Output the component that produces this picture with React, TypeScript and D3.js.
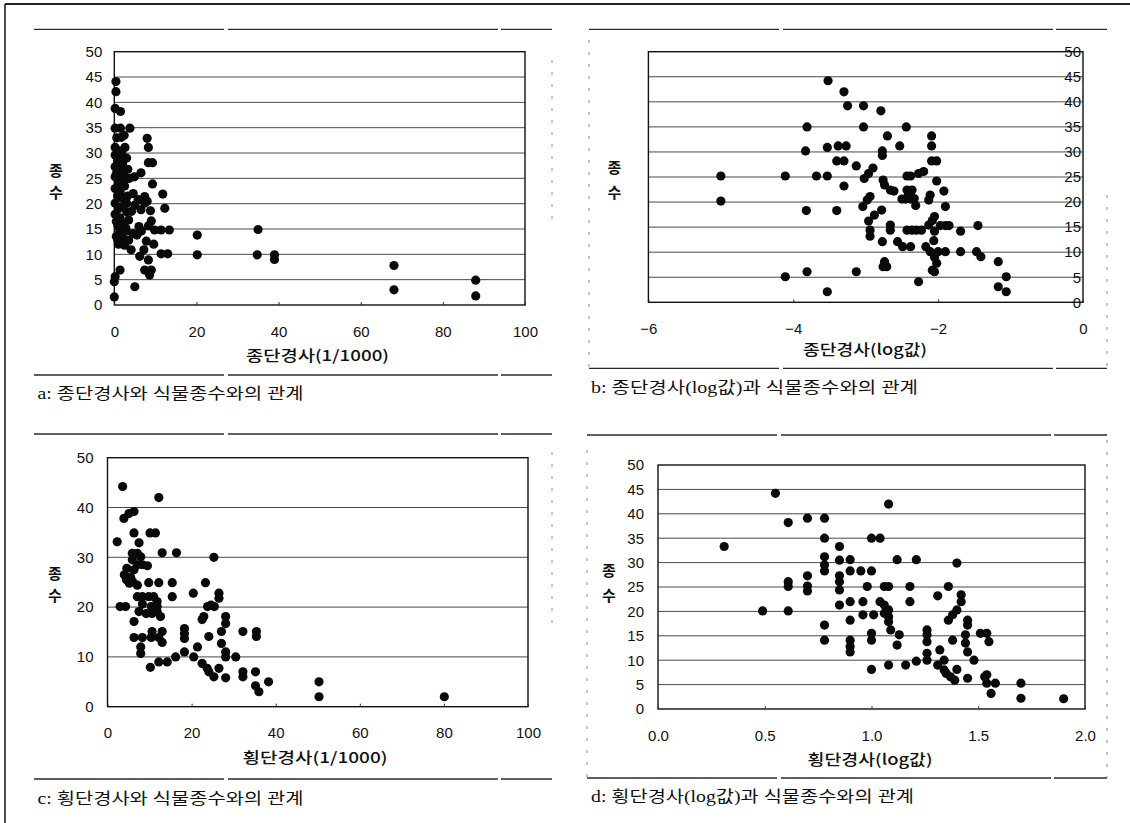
import React, { useEffect, useRef } from "react";
import * as d3 from "d3";

// 종수 (species count) vs. slope, four views of the same survey plots
const longSlopePts = [
  [0.4, 44.1], [0.4, 42.1], [0.2, 38.8], [1.5, 38.2], [0.2, 34.9], [1.5, 34.9], [3.8, 34.9], [1.7, 33.1],
  [8.0, 32.9], [8.3, 31.1], [0.2, 31.1], [2.6, 31.1], [0.2, 29.6], [1.2, 29.3], [8.3, 28.1], [9.3, 28.1],
  [0.2, 27.3], [1.4, 27.0], [6.5, 26.1], [4.9, 25.3], [3.7, 25.0], [0.2, 25.3], [1.4, 24.7], [9.3, 23.9],
  [0.2, 23.0], [1.4, 22.4], [4.6, 22.0], [7.4, 21.4], [11.8, 21.9], [0.2, 20.1], [3.0, 20.1], [5.0, 19.7],
  [7.4, 20.1], [12.3, 19.1], [0.2, 17.9], [1.4, 17.2], [3.0, 18.4], [9.0, 16.6], [8.3, 15.6], [0.9, 15.6],
  [2.9, 14.6], [4.6, 14.1], [6.6, 14.6], [9.8, 14.8], [11.4, 14.8], [13.4, 14.8], [20.2, 13.8], [0.9, 12.8],
  [2.5, 11.8], [4.1, 10.9], [7.2, 10.9], [9.6, 12.0], [11.4, 10.1], [13.0, 10.1], [20.2, 9.9], [8.3, 8.9],
  [9.0, 6.9], [8.6, 5.9], [7.4, 6.9], [1.4, 6.9], [0.2, 5.6], [0.0, 4.6], [5.0, 3.6], [0.0, 1.6],
  [35.0, 14.9], [34.8, 9.9], [39.0, 9.9], [39.0, 9.0], [68.1, 7.8], [68.1, 3.0], [88.0, 4.9], [88.0, 1.8],
  [1.0, 30.5], [0.8, 28.5], [2.0, 28.0], [0.6, 26.2], [2.2, 26.0], [1.0, 23.8], [2.5, 23.5], [0.8, 21.5],
  [2.0, 21.0], [3.2, 21.5], [1.0, 19.0], [2.2, 19.5], [0.5, 16.5], [2.0, 16.0], [1.2, 14.2], [2.0, 13.2],
  [3.5, 12.8], [5.5, 13.8], [6.0, 15.5], [5.8, 20.8], [6.5, 18.8], [2.4, 33.5], [3.0, 29.0], [1.0, 12.0],
  [6.2, 9.6], [7.8, 12.6], [8.8, 18.6], [8.0, 20.5], [0.5, 13.5], [1.8, 12.2], [2.8, 15.2], [3.5, 16.8],
  [4.2, 18.5], [1.6, 24.0], [2.8, 24.8], [3.3, 26.8], [1.8, 30.0], [0.6, 33.0],
];

const longLogPts = [
  [-5.0, 25.2], [-5.0, 20.2], [-4.11, 25.2], [-4.11, 5.1], [-3.81, 35.0], [-3.83, 30.2], [-3.82, 18.3],
  [-3.81, 6.1], [-3.52, 44.2], [-3.53, 30.9], [-3.53, 25.2], [-3.68, 25.2], [-3.53, 2.1], [-3.30, 42.0],
  [-3.25, 39.2], [-3.40, 18.3], [-3.40, 28.2], [-3.30, 28.2], [-3.38, 31.2], [-3.27, 31.2], [-3.30, 23.2],
  [-3.13, 27.2], [-3.13, 6.1], [-3.03, 39.2], [-3.03, 35.0], [-3.02, 24.7], [-2.96, 25.7], [-2.90, 26.8],
  [-2.79, 38.2], [-2.70, 33.2], [-2.77, 30.2], [-2.77, 29.3], [-2.53, 31.2], [-2.44, 35.0], [-2.09, 33.2],
  [-2.09, 31.2], [-2.09, 28.2], [-2.02, 28.2], [-2.02, 24.2], [-1.92, 22.2], [-1.90, 19.1], [-1.69, 14.2],
  [-1.45, 15.3], [-1.69, 10.1], [-1.47, 10.1], [-1.41, 9.1], [-1.17, 8.1], [-1.06, 5.1], [-1.17, 3.1],
  [-1.06, 2.1], [-2.27, 4.1], [-2.76, 7.1], [-2.71, 7.1], [-2.74, 8.1], [-2.77, 12.1], [-2.94, 13.2],
  [-2.94, 14.4], [-2.96, 16.2], [-2.88, 17.4], [-2.78, 18.4], [-3.04, 19.1], [-2.98, 20.4], [-2.94, 21.1],
  [-2.76, 24.4], [-2.74, 23.4], [-2.66, 22.4], [-2.61, 22.2], [-2.66, 15.4], [-2.66, 14.4], [-2.56, 12.1],
  [-2.49, 11.1], [-2.38, 11.1], [-2.50, 20.6], [-2.45, 20.6], [-2.38, 20.6], [-2.43, 25.2], [-2.38, 25.2],
  [-2.27, 25.7], [-2.20, 26.1], [-2.43, 22.4], [-2.36, 22.4], [-2.41, 21.4], [-2.33, 20.7], [-2.31, 19.3],
  [-2.43, 14.4], [-2.36, 14.4], [-2.30, 14.4], [-2.23, 14.4], [-2.13, 15.4], [-2.08, 16.3], [-2.05, 17.1],
  [-2.05, 14.2], [-1.97, 15.3], [-1.90, 15.3], [-1.85, 15.3], [-2.11, 21.4], [-2.13, 20.4], [-2.17, 11.1],
  [-2.11, 10.1], [-2.05, 9.0], [-2.02, 7.8], [-2.08, 6.4], [-2.05, 6.1], [-2.00, 10.1], [-1.90, 10.1],
  [-2.06, 12.3],
];

const crossSlopePts = [
  [3.6, 44.2], [12.2, 42.0], [3.9, 37.8], [5.1, 38.8], [6.3, 39.2], [2.3, 33.1], [6.3, 34.9], [10.1, 34.9],
  [11.4, 34.9], [7.5, 32.9], [13.0, 30.9], [16.4, 30.9], [25.3, 30.0], [5.9, 30.8], [7.1, 30.8], [7.9, 30.1],
  [5.9, 29.5], [7.1, 28.5], [8.3, 28.5], [9.5, 28.3], [4.6, 27.8], [6.3, 27.5], [4.0, 26.5], [5.5, 26.0],
  [4.5, 25.5], [6.0, 25.1], [7.1, 24.4], [5.2, 24.8], [9.8, 24.9], [12.2, 24.9], [15.4, 24.9], [15.4, 22.1],
  [20.4, 22.8], [23.3, 24.9], [26.5, 22.8], [26.5, 21.8], [23.8, 20.1], [24.6, 20.4], [25.4, 20.1],
  [22.9, 18.1], [22.5, 17.5], [28.1, 18.1], [28.1, 16.7], [3.0, 20.1], [4.3, 20.1], [7.1, 22.1], [8.3, 22.1],
  [9.8, 22.1], [11.0, 22.1], [11.8, 21.1], [8.3, 20.6], [10.4, 20.1], [11.8, 20.1], [7.5, 19.1], [9.2, 18.7],
  [10.6, 18.7], [11.8, 19.1], [12.6, 18.1], [6.3, 17.1], [10.6, 15.1], [13.0, 15.1], [6.3, 13.9], [8.3, 13.9],
  [10.4, 13.9], [12.2, 13.9], [7.9, 12.0], [7.9, 10.7], [13.0, 12.9], [18.3, 15.7], [18.3, 14.7], [18.3, 13.7],
  [18.3, 11.0], [16.2, 10.0], [14.2, 9.0], [12.2, 9.0], [10.2, 7.9], [21.4, 12.0], [20.5, 10.0], [22.5, 8.7],
  [23.7, 7.7], [24.1, 7.0], [25.3, 6.0], [26.5, 7.7], [24.1, 14.1], [27.1, 15.1], [27.1, 12.7], [28.1, 11.0],
  [28.1, 10.0], [30.5, 10.0], [28.1, 5.8], [32.2, 15.1], [32.2, 7.0], [32.2, 6.0], [35.4, 15.1], [35.4, 14.1],
  [35.2, 7.0], [35.2, 4.2], [36.0, 3.0], [38.3, 5.0], [50.3, 5.0], [50.3, 2.0], [80.1, 2.0],
];

const crossLogPts = [
  [0.31, 33.3], [0.49, 20.1], [0.61, 20.1], [0.55, 44.2], [0.61, 38.2], [0.61, 26.1], [0.61, 25.1],
  [0.70, 39.1], [0.78, 39.1], [0.70, 27.3], [0.70, 25.2], [0.70, 24.2], [0.78, 35.0], [0.78, 31.2],
  [0.78, 29.5], [0.78, 28.3], [0.78, 17.2], [0.78, 14.1], [0.85, 33.3], [0.85, 30.5], [0.85, 27.3],
  [0.85, 26.1], [0.85, 24.4], [0.85, 21.3], [0.90, 30.6], [0.90, 28.3], [0.90, 22.0], [0.90, 18.2],
  [0.90, 14.1], [0.90, 12.8], [0.90, 11.7], [0.95, 28.3], [1.00, 28.3], [0.98, 25.1], [0.96, 22.0],
  [0.96, 19.3], [1.01, 19.3], [1.00, 35.0], [1.04, 35.0], [1.08, 42.0], [1.00, 15.5], [1.00, 14.1],
  [1.00, 8.1], [1.06, 25.1], [1.08, 25.1], [1.04, 22.0], [1.06, 21.3], [1.08, 20.3], [1.06, 19.6],
  [1.08, 18.9], [1.08, 17.9], [1.09, 16.2], [1.13, 15.2], [1.12, 13.1], [1.12, 30.6], [1.21, 30.6],
  [1.08, 9.0], [1.16, 9.0], [1.21, 9.8], [1.18, 25.1], [1.18, 22.0], [1.26, 16.2], [1.26, 15.2],
  [1.26, 13.8], [1.26, 11.4], [1.26, 10.0], [1.31, 23.2], [1.32, 12.1], [1.31, 9.0], [1.34, 8.0],
  [1.35, 7.3], [1.37, 6.6], [1.39, 5.9], [1.34, 10.0], [1.40, 8.1], [1.36, 25.1], [1.40, 29.9],
  [1.38, 14.1], [1.36, 18.2], [1.38, 19.3], [1.40, 20.3], [1.42, 23.4], [1.42, 22.0], [1.45, 18.2],
  [1.45, 17.2], [1.44, 15.2], [1.44, 13.5], [1.45, 11.7], [1.48, 10.0], [1.45, 6.3], [1.51, 15.5],
  [1.54, 15.5], [1.55, 13.8], [1.53, 6.6], [1.54, 7.0], [1.54, 5.3], [1.58, 5.3], [1.56, 3.2],
  [1.70, 5.3], [1.70, 2.2], [1.90, 2.1],
];

const yTicks5 = [0, 5, 10, 15, 20, 25, 30, 35, 40, 45, 50];
const yTicks10 = [0, 10, 20, 30, 40, 50];
const pctTicks = [0, 20, 40, 60, 80, 100];
const logLongTicks = [-6, -4, -2, 0];
const logCrossTicks = [0, 0.5, 1.0, 1.5, 2.0];

const yTitle = ["종", "수"];
const xTitles = ["종단경사(1/1000)", "종단경사(log값)", "횡단경사(1/1000)", "횡단경사(log값)"];
const captions = [
  "a:  종단경사와  식물종수와의  관계",
  "b:  종단경사(log값)과  식물종수와의  관계",
  "c:  횡단경사와  식물종수와의  관계",
  "d:  횡단경사(log값)과  식물종수와의  관계",
];

const NUM_FONT = "'Liberation Sans', Arial, sans-serif";
const KR_FONT = "'Noto Sans CJK KR', sans-serif";
const CAP_FONT = "'Liberation Serif', 'Noto Sans CJK KR', serif";

const panels = [
  {
    pts: longSlopePts, xDomain: [0, 100], xTicks: pctTicks, fmt: (d) => String(d), yTicks: yTicks5,
    left: 114.3, right: 525, top: 51.7, bottom: 305, yLabelRight: false, yPad: 12,
    sepX: [34, 552], sepTop: 29.3, sepBottom: 375, vLeft: null, vRight: [552, 60, 222],
    xTitle: xTitles[0], xtX: 317.5, xtY: 361, xtW: 143, ytX: 56, ytY: [176, 198],
    cap: captions[0], capX: 37.5, capY: 399, capW: 266,
  },
  {
    pts: longLogPts, xDomain: [-6, 0], xTicks: logLongTicks, fmt: (d) => (d < 0 ? "\u2212" + Math.abs(d) : String(d)),
    yTicks: yTicks5, left: 648.4, right: 1083, top: 51.7, bottom: 302.3, yLabelRight: true, yPad: 2,
    sepX: [589, 1107], sepTop: 29.3, sepBottom: 368.3, vLeft: [589, 40, 368], vRight: [1107, 195, 368],
    xTitle: xTitles[1], xtX: 865, xtY: 355, xtW: 124, ytX: 614.5, ytY: [173, 198],
    cap: captions[1], capX: 591, capY: 393, capW: 327,
  },
  {
    pts: crossSlopePts, xDomain: [0, 100], xTicks: pctTicks, fmt: (d) => String(d), yTicks: yTicks10,
    left: 107.5, right: 528, top: 457.7, bottom: 706.7, yLabelRight: false, yPad: 14,
    sepX: [34, 552], sepTop: 434, sepBottom: 779, vLeft: null, vRight: [552, 452, 628],
    xTitle: xTitles[2], xtX: 315, xtY: 763, xtW: 145, ytX: 55, ytY: [579, 601],
    cap: captions[2], capX: 37.5, capY: 804, capW: 266,
  },
  {
    pts: crossLogPts, xDomain: [0, 2], xTicks: logCrossTicks, fmt: d3.format(".1f"), yTicks: yTicks5,
    left: 658, right: 1085, top: 465, bottom: 709, yLabelRight: false, yPad: 14,
    sepX: [587, 1107], sepTop: 435, sepBottom: 778, vLeft: [587, 450, 778], vRight: [1107, 440, 778],
    xTitle: xTitles[3], xtX: 870, xtY: 765, xtW: 125, ytX: 609, ytY: [576, 601],
    cap: captions[3], capX: 591, capY: 802, capW: 323,
  },
];

function drawPanel(root, p) {
  const g = root.append("g");
  const x = d3.scaleLinear().domain(p.xDomain).range([p.left, p.right]);
  const y = d3.scaleLinear().domain([0, 50]).range([p.bottom, p.top]);

  // scanned-frame separators
  [p.sepTop, p.sepBottom].forEach((sy) => {
    g.append("line")
      .attr("x1", p.sepX[0]).attr("x2", p.sepX[1])
      .attr("y1", sy).attr("y2", sy)
      .attr("stroke", "#2a2a2a").attr("stroke-width", 1.3)
      .attr("stroke-dasharray", "190,4,270,3");
  });
  [p.vLeft, p.vRight].forEach((v) => {
    if (!v) return;
    g.append("line")
      .attr("x1", v[0]).attr("x2", v[0])
      .attr("y1", v[1]).attr("y2", v[2])
      .attr("stroke", "#8a8a8a").attr("stroke-width", 1)
      .attr("stroke-dasharray", "3,9");
  });

  // gridlines
  g.append("g")
    .selectAll("line")
    .data(p.yTicks.filter((v) => v > 0 && v < 50))
    .enter()
    .append("line")
    .attr("x1", p.left).attr("x2", p.right)
    .attr("y1", (d) => y(d)).attr("y2", (d) => y(d))
    .attr("stroke", "#4a4a4a").attr("stroke-width", 1);

  // plot box
  g.append("rect")
    .attr("x", p.left).attr("y", p.top)
    .attr("width", p.right - p.left).attr("height", p.bottom - p.top)
    .attr("fill", "none").attr("stroke", "#111").attr("stroke-width", 1.4);

  // x axis
  const xAxis = d3.axisBottom(x).tickValues(p.xTicks).tickFormat(p.fmt).tickSize(-3).tickPadding(21);
  const xg = g.append("g").attr("transform", `translate(0,${p.bottom})`).call(xAxis);
  xg.select(".domain").remove();
  xg.attr("font-size", 15).attr("font-family", NUM_FONT);
  xg.selectAll("line").attr("stroke", "#333");
  xg.selectAll("text").attr("fill", "#111");

  // y axis (labels only)
  const yAxis = d3.axisLeft(y).tickValues(p.yTicks).tickSize(0).tickPadding(p.yPad);
  const yg = g.append("g").attr("transform", `translate(${p.yLabelRight ? p.right : p.left},0)`).call(yAxis);
  yg.select(".domain").remove();
  yg.attr("font-size", 15).attr("font-family", NUM_FONT);
  yg.selectAll("text").attr("fill", "#111");

  // axis titles
  g.append("text")
    .attr("x", p.xtX - p.xtW / 2).attr("y", p.xtY)
    .attr("textLength", p.xtW).attr("lengthAdjust", "spacingAndGlyphs")
    .attr("font-family", KR_FONT).attr("font-size", 15).attr("font-weight", 500)
    .attr("fill", "#111")
    .text(p.xTitle);
  yTitle.forEach((ch, i) => {
    g.append("text")
      .attr("x", p.ytX).attr("y", p.ytY[i])
      .attr("text-anchor", "middle")
      .attr("font-family", KR_FONT).attr("font-size", 15).attr("font-weight", 700)
      .attr("fill", "#111")
      .text(ch);
  });

  // caption
  g.append("text")
    .attr("x", p.capX).attr("y", p.capY)
    .attr("textLength", p.capW).attr("lengthAdjust", "spacingAndGlyphs")
    .attr("font-family", CAP_FONT).attr("font-size", 16)
    .attr("fill", "#111")
    .text(p.cap);

  // points
  g.append("g")
    .selectAll("circle")
    .data(p.pts)
    .enter()
    .append("circle")
    .attr("cx", (d) => x(d[0]))
    .attr("cy", (d) => y(d[1]))
    .attr("r", 4.6)
    .attr("fill", "#0a0a0a");
}

export default function App() {
  const svgRef = useRef(null);

  useEffect(() => {
    const svg = d3.select(svgRef.current);
    svg.selectAll("*").remove();

    svg.append("rect").attr("width", 1130).attr("height", 823).attr("fill", "#fff");
    // outer page frame (top + left edges only, as scanned)
    svg.append("line").attr("x1", 5).attr("x2", 1130).attr("y1", 4).attr("y2", 4)
      .attr("stroke", "#222").attr("stroke-width", 2);
    svg.append("line").attr("x1", 5).attr("x2", 5).attr("y1", 4).attr("y2", 823)
      .attr("stroke", "#222").attr("stroke-width", 1.6);

    panels.forEach((p) => drawPanel(svg, p));
  }, []);

  return (
    <svg
      ref={svgRef}
      width={1130}
      height={823}
      style={{ position: "absolute", left: 0, top: 0, background: "#fff" }}
    />
  );
}
